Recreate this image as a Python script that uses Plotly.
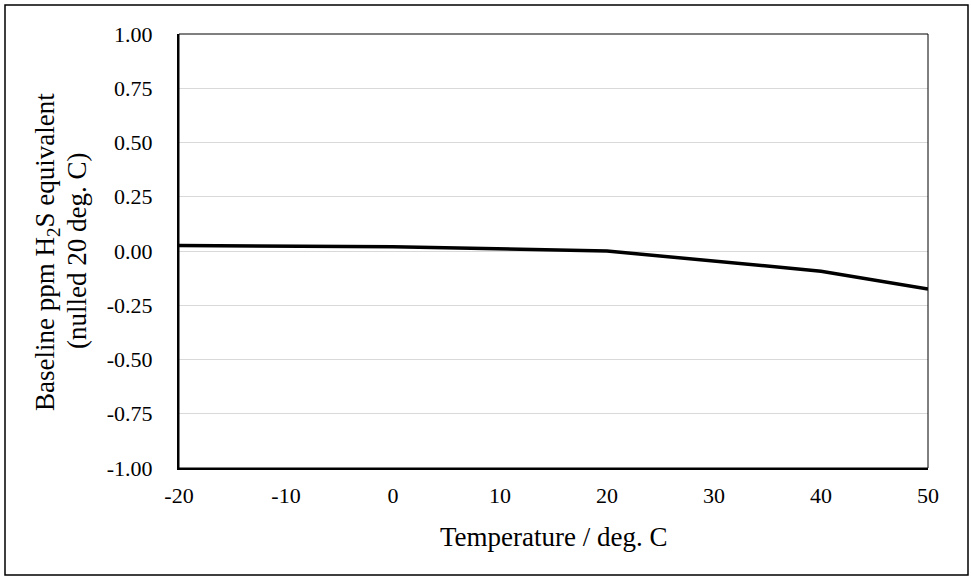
import plotly.graph_objects as go

temperature = [-20, 0, 20, 40, 50]
baseline = [0.025, 0.02, 0.0, -0.093, -0.175]

x_ticks = [-20, -10, 0, 10, 20, 30, 40, 50]
x_labels = ["-20", "-10", "0", "10", "20", "30", "40", "50"]
y_ticks = [-1.0, -0.75, -0.5, -0.25, 0.0, 0.25, 0.5, 0.75, 1.0]
y_labels = ["-1.00", "-0.75", "-0.50", "-0.25", "0.00", "0.25", "0.50", "0.75", "1.00"]

x_title = "Temperature / deg. C"
y_title_lines = ["Baseline ppm H<sub>2</sub>S equivalent", "(nulled 20 deg. C)"]

W, H = 971, 580
L, R, T, B = 179, 43, 34, 112
pw, ph = W - L - R, H - T - B

FAM = "Liberation Serif, Times New Roman, serif"
tick_font = dict(family=FAM, size=22, color="black")
title_font = dict(family=FAM, size=27, color="black")

fig = go.Figure()
fig.add_trace(go.Scatter(x=temperature, y=baseline, mode="lines",
                         line=dict(color="black", width=3.5), showlegend=False))

def px(x):
    return (x - L) / pw

def py(y):
    return (H - B - y) / ph

annotations = [
    dict(text=x_title, xref="paper", yref="paper", x=0.5, y=py(537),
         xanchor="center", yanchor="middle", showarrow=False, font=title_font),
    dict(text=y_title_lines[0], xref="paper", yref="paper", x=px(47), y=py(252),
         xanchor="center", yanchor="middle", showarrow=False, font=title_font,
         textangle=-90),
    dict(text=y_title_lines[1], xref="paper", yref="paper", x=px(77), y=py(251),
         xanchor="center", yanchor="middle", showarrow=False, font=title_font,
         textangle=-90),
]

fig.update_layout(
    width=W, height=H,
    margin=dict(l=L, r=R, t=T, b=B),
    paper_bgcolor="white", plot_bgcolor="white",
    font=tick_font,
    xaxis=dict(range=[-20, 50], tickvals=x_ticks, ticktext=x_labels,
               showgrid=False, zeroline=False,
               showline=True, linecolor="black", linewidth=2, ticks="",
               tickfont=tick_font, ticklabelstandoff=7),
    yaxis=dict(range=[-1, 1], tickvals=y_ticks, ticktext=y_labels,
               showgrid=True, gridcolor="#d9d9d9", gridwidth=1, zeroline=False,
               showline=True, linecolor="black", linewidth=2, ticks="",
               tickfont=tick_font, ticklabelstandoff=20),
    annotations=annotations,
    shapes=[
        dict(type="rect", xref="paper", yref="paper", x0=0, x1=1, y0=0, y1=1,
             line=dict(color="black", width=1), layer="above"),
        dict(type="rect", xref="paper", yref="paper",
             x0=px(5), x1=px(968), y0=py(575), y1=py(5),
             line=dict(color="black", width=1.5)),
    ],
)

fig.write_html("out.html")
